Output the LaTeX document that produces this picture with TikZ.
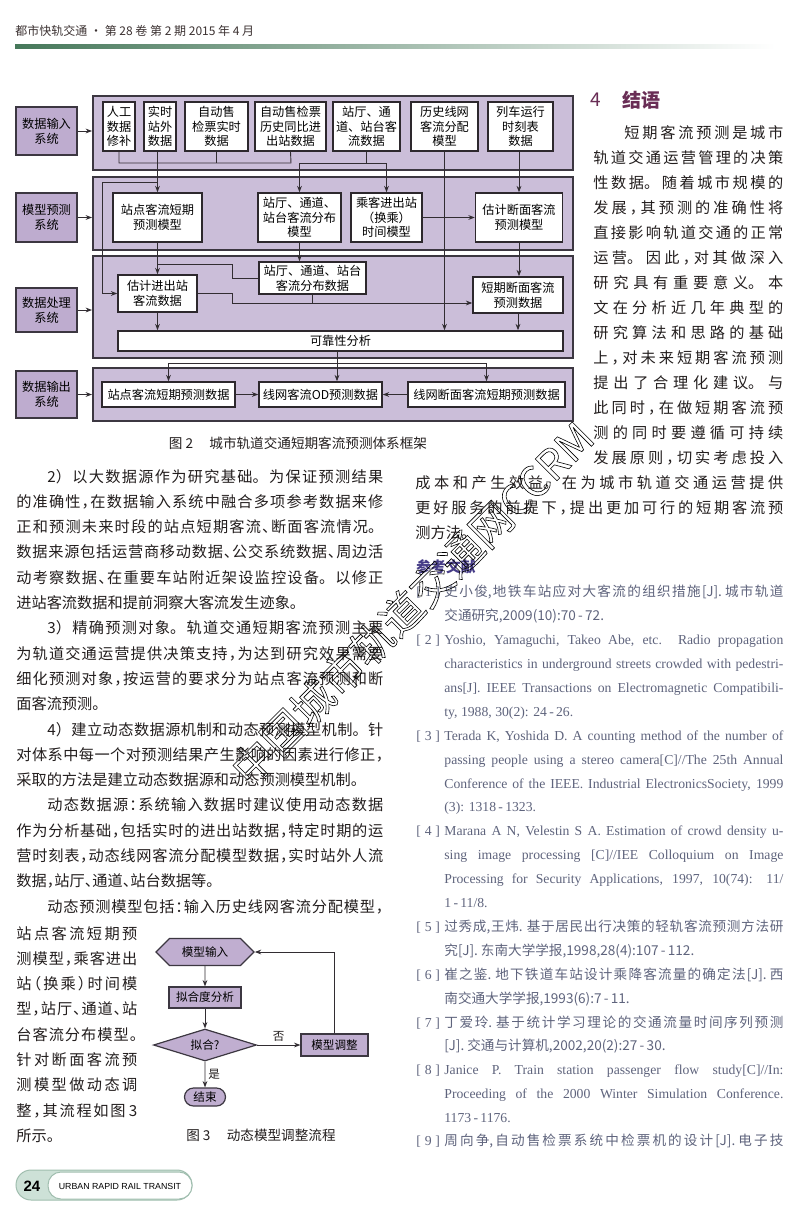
\documentclass[tikz,border=0pt]{standalone}
\usepackage{fontspec}
\setmainfont{Noto Sans CJK SC}
\newfontfamily\lat{Liberation Serif}
\newfontfamily\latsans{Liberation Sans}
\usetikzlibrary{positioning, arrows.meta, shapes.geometric, shapes.symbols, shapes.misc}

\definecolor{panelfill}{RGB}{203,190,217}
\definecolor{sysfill}{RGB}{190,172,207}
\definecolor{flowfill}{RGB}{192,174,208}
\definecolor{panelline}{RGB}{60,55,65}
\definecolor{boxline}{RGB}{45,40,45}
\definecolor{lineclr}{RGB}{50,45,50}
\definecolor{bodyclr}{RGB}{35,30,30}
\definecolor{refclr}{RGB}{95,100,125}
\definecolor{headclr}{RGB}{60,50,50}
\definecolor{titleclr}{RGB}{105,45,85}
\definecolor{refhead}{RGB}{70,60,135}
\definecolor{headgreen}{RGB}{70,120,90}
\definecolor{footfill}{RGB}{205,225,215}
\definecolor{footline}{RGB}{160,190,175}

\XeTeXlinebreaklocale "zh"\relax
\XeTeXlinebreakskip=0pt plus 1fil\relax

% half-width punctuation
\newcommand\zcomma{\hspace{0pt plus 1fil}\makebox[.5em][l]{，}\hspace{0pt plus 1fil}}
\newcommand\zdun{\hspace{0pt plus 1fil}\makebox[.5em][l]{、}\hspace{0pt plus 1fil}}
\newcommand\zstop{\hspace{0pt plus 1fil}\makebox[.5em][l]{。}\hspace{0pt plus 1fil}}
\newcommand\zcolon{\hspace{0pt plus 1fil}\makebox[.5em][l]{：}\hspace{0pt plus 1fil}}
\newcommand\zlp{\hspace{0pt plus 1fil}\makebox[.5em][r]{（}\hspace{0pt plus 1fil}}
\newcommand\zrp{\hspace{0pt plus 1fil}\makebox[.5em][l]{）}\hspace{0pt plus 1fil}}
\newcommand\zhlocale{\XeTeXlinebreaklocale "zh"\relax}
\newcommand\nobreaklocale{\XeTeXlinebreaklocale ""\relax}
\newcommand\hollow[1]{\special{pdf:literal direct 1 Tr 0.3 w}#1\special{pdf:literal direct 0 Tr}}

\begin{document}
\begin{tikzpicture}[x=0.5pt, y=-0.5pt,
    panel/.style={draw=panelline, line width=1pt, fill=panelfill, inner sep=0pt, minimum width=240pt},
    sys/.style={draw=panelline, line width=1pt, fill=sysfill, inner sep=0pt, minimum width=30.5pt, align=center, font=\fontsize{6.1}{7.4}\selectfont},
    box/.style={draw=boxline, line width=0.75pt, fill=white, inner sep=0pt, align=center, font=\fontsize{6.1}{7.4}\selectfont},
    arr/.style={draw=lineclr, line width=0.45pt, -{Stealth[length=3.2pt, width=2.4pt]}},
    ln/.style={draw=lineclr, line width=0.45pt},
    flow/.style={draw=panelline, line width=0.6pt, fill=flowfill, inner sep=0pt, font=\fontsize{5.8}{7}\selectfont},
    txt/.style={anchor=west, inner sep=0pt, text height=.8em, text depth=.2em, text=bodyclr, font=\fontsize{7.6}{9}\selectfont},
    jt/.style={txt, text width=#1, align=justify, execute at begin node={\zhlocale\parfillskip=0pt\relax}},
    ref/.style={txt, text=refclr, font=\fontsize{6.8}{8}\selectfont},
    jref/.style={ref, text width=169.5pt, align=justify, execute at begin node={\zhlocale\parfillskip=0pt\relax}},
    lref/.style={ref, font=\fontsize{6.85}{8}\lat, execute at begin node={\nobreaklocale}},
    jlref/.style={lref, text width=169.5pt, align=justify, execute at begin node={\nobreaklocale\parfillskip=0pt\relax}},
    figcap/.style={inner sep=0pt, text=bodyclr, font=\fontsize{6.8}{8}\selectfont}]

\fill[white] (0,0) rectangle (800,1215);
\useasboundingbox (0,0) rectangle (800,1215);

% header
\node[anchor=west, inner sep=0pt, font=\fontsize{6}{7}\selectfont, text=headclr] (head) at (15,31) {都市快轨交通 · 第 28 卷\ 第 2 期\ 2015 年 4 月};
\shade[left color=headgreen, right color=white] (15,44) rectangle (775,48);

% figure 2
\node[panel, minimum height=37pt] (p1) at (333,133) {};
\node[panel, minimum height=36.5pt] (p2) at (333,213.5) {};
\node[panel, minimum height=51pt] (p3) at (333,307) {};
\node[panel, minimum height=26.5pt] (p4) at (333,394.5) {};

\node[sys, minimum height=24pt] (in) at (46.5,131) {数据输入\\系统};
\node[sys, minimum height=24.5pt] (mod) at (46.5,217.5) {模型预测\\系统};
\node[sys, minimum height=22pt] (proc) at (46.5,310) {数据处理\\系统};
\node[sys, minimum height=23.5pt] (out) at (46.5,394.5) {数据输出\\系统};

\node[box, minimum width=16pt, minimum height=24.5pt] (a1) at (119,126.5) {人工\\数据\\修补};
\node[box, minimum width=16pt, minimum height=24.5pt] (a2) at (160,126.5) {实时\\站外\\数据};
\node[box, minimum width=31.5pt, minimum height=24.5pt] (a3) at (216.5,126.5) {自动售\\检票实时\\数据};
\node[box, minimum width=35.5pt, minimum height=24.5pt] (a4) at (290.5,126.5) {自动售检票\\历史同比进\\出站数据};
\node[box, minimum width=33.5pt, minimum height=24.5pt] (a5) at (366.5,126.5) {站厅、通\\道、站台客\\流数据};
\node[box, minimum width=33.5pt, minimum height=24.5pt] (a6) at (444.5,126.5) {历史线网\\客流分配\\模型};
\node[box, minimum width=32.5pt, minimum height=24.5pt] (a7) at (520.5,126.5) {列车运行\\时刻表\\数据};

\node[box, minimum width=44.5pt, minimum height=24.5pt] (b1) at (157.5,217.5) {站点客流短期\\预测模型};
\node[box, minimum width=41.5pt, minimum height=24.5pt] (b2) at (299.5,217.5) {站厅、通道、\\站台客流分布\\模型};
\node[box, minimum width=35.5pt, minimum height=24.5pt] (b3) at (386.5,217.5) {乘客进出站\\（换乘）\\时间模型};
\node[box, minimum width=43.5pt, minimum height=24.5pt] (b4) at (519,217.5) {估计断面客流\\预测模型};

\node[box, minimum width=39.5pt, minimum height=18.5pt] (c1) at (157.5,293.5) {估计进出站\\客流数据};
\node[box, minimum width=53.5pt, minimum height=16pt] (c2) at (312.5,278) {站厅、通道、站台\\客流分布数据};
\node[box, minimum width=45pt, minimum height=18pt] (c3) at (518,295) {短期断面客流\\预测数据};
\node[box, minimum width=222.5pt, minimum height=10pt] (rel) at (340.5,341) {可靠性分析};

\node[box, minimum width=66.5pt, minimum height=12.5pt] (d1) at (168.5,394.5) {站点客流短期预测数据};
\node[box, minimum width=61.5pt, minimum height=12.5pt] (d2) at (320.5,394.5) {线网客流OD预测数据};
\node[box, minimum width=78.5pt, minimum height=12.5pt] (d3) at (486.5,394.5) {线网断面客流短期预测数据};

\coordinate (bl) at (119,163);
\coordinate (br) at (291,163);
\coordinate (j1) at (102,182);
\coordinate (k1) at (232,264);
\coordinate (k2) at (232,303);
\coordinate (k3) at (337,363);

\draw[arr] (in) -- (in -| p1.west);
\draw[arr] (mod) -- (mod -| p2.west);
\draw[arr] (proc) -- (proc -| p3.west);
\draw[arr] (out) -- (out -| p4.west);

\draw[ln] (a1.south) -- (bl) -- (br) -- (a4.south);
\draw[ln] (a3.south) -- (a3.south |- bl);
\draw[ln] (a5.south) -- (a5.south |- bl);
\draw[arr] (a5.south |- bl) -| (b2.north);
\draw[arr] (a5.south |- bl) -| (b3.north);
\draw[arr] (b1.north |- a2.south) -- (b1.north);
\draw[arr] (b1.north |- j1) -- (j1) |- (c1.west);
\draw[arr] (a7.south -| b4.north) -- (b4.north);
\draw[arr] (b3) -- (b4);
\draw[arr] (b1.south) -- (c1.north);
\draw[arr] (b2.south) -- (b2.south |- c2.north);
\draw[ln] (c2.west) -| (k1) -- (k1 -| c1.north);
\draw[arr] (c1.east) -| (k2) -- (k2 -| c3.west);
\draw[ln] (c2.south) -- (c2.south |- k2);
\draw[arr] (b4.south) -- (b4.south |- c3.north);
\draw[arr] (a6.south) -- (a6.south |- rel.north);
\draw[arr] (c1.south) -- (c1.south |- rel.north);
\draw[arr] (c3.south) -- (c3.south |- rel.north);
\draw[arr] (rel.south -| k3) -- (k3 |- d2.north);
\draw[arr] (k3) -| (d1.north);
\draw[arr] (k3) -| (d3.north);
\draw[arr] (d1) -- (d2);
\draw[arr] (d3) -- (d2);

\node[figcap] (cap2) at (298,443) {图 2\hspace{1.2em}城市轨道交通短期客流预测体系框架};

% left column
\node[jt=168pt] (b1l) at (47,476) {2）以大数据源作为研究基础。为保证预测结果};
\node[jt=183.5pt] (b2l) at (16,501.3) {的准确性\zcomma 在数据输入系统中融合多项参考数据来修};
\node[jt=183.5pt] (b3l) at (16,526.6) {正和预测未来时段的站点短期客流\zdun 断面客流情况。};
\node[jt=183.5pt] (b4l) at (16,551.9) {数据来源包括运营商移动数据\zdun 公交系统数据\zdun 周边活};
\node[jt=183.5pt] (b5l) at (16,577.2) {动考察数据\zdun 在重要车站附近架设监控设备。以修正};
\node[txt] (b6l) at (16,602.5) {进站客流数据和提前洞察大客流发生迹象。};
\node[jt=168pt] (b7l) at (47,627.8) {3）精确预测对象。轨道交通短期客流预测主要};
\node[jt=183.5pt] (b8l) at (16,653.1) {为轨道交通运营提供决策支持\zcomma 为达到研究效果需要};
\node[jt=183.5pt] (b9l) at (16,678.4) {细化预测对象\zcomma 按运营的要求分为站点客流预测和断};
\node[txt] (b10l) at (16,703.7) {面客流预测。};
\node[jt=168pt] (b11l) at (47,729) {4）建立动态数据源机制和动态预测模型机制。针};
\node[jt=183.5pt] (b12l) at (16,754.3) {对体系中每一个对预测结果产生影响的因素进行修正\zcomma};
\node[txt] (b13l) at (16,779.6) {采取的方法是建立动态数据源和动态预测模型机制。};
\node[jt=168pt] (b14l) at (47,804.9) {动态数据源\zcolon 系统输入数据时建议使用动态数据};
\node[jt=183.5pt] (b15l) at (16,830.2) {作为分析基础\zcomma 包括实时的进出站数据\zcomma 特定时期的运};
\node[jt=183.5pt] (b16l) at (16,855.5) {营时刻表\zcomma 动态线网客流分配模型数据\zcomma 实时站外人流};
\node[txt] (b17l) at (16,880.8) {数据\zcomma 站厅\zdun 通道\zdun 站台数据等。};
\node[jt=168pt] (b18l) at (47,906.1) {动态预测模型包括\zcolon 输入历史线网客流分配模型\zcomma};

\node[jt=60.5pt] (n1) at (16,933) {站点客流短期预};
\node[jt=60.5pt] (n2) at (16,958.3) {测模型\zcomma 乘客进出};
\node[jt=60.5pt] (n3) at (16,983.6) {站\zlp 换乘\zrp 时间模};
\node[jt=60.5pt] (n4) at (16,1008.9) {型\zcomma 站厅\zdun 通道\zdun 站};
\node[jt=60.5pt] (n5) at (16,1034.2) {台客流分布模型\zstop};
\node[jt=60.5pt] (n6) at (16,1059.5) {针对断面客流预};
\node[jt=60.5pt] (n7) at (16,1084.8) {测模型做动态调};
\node[jt=60.5pt] (n8) at (16,1110.1) {整\zcomma 其流程如图 3};
\node[txt] (n9) at (16,1135.4) {所示。};

% figure 3
\node[flow, signal, signal to=east and west, minimum width=49pt, minimum height=13.5pt] (f1) at (205,952) {模型输入};
\node[flow, minimum width=36pt, minimum height=10.5pt] (f2) at (205,997.5) {拟合度分析};
\node[flow, diamond, aspect=3.2, minimum width=51.5pt, minimum height=16pt] (f3) at (205,1045) {拟合?};
\node[flow, minimum width=33.5pt, minimum height=11pt] (f4) at (334.5,1045) {模型调整};
\node[flow, rounded rectangle, minimum width=20.5pt, minimum height=9pt] (f5) at (205,1097) {结束};
\draw[arr] (f1) -- (f2);
\draw[arr] (f2) -- (f3);
\draw[arr] (f3) -- node[above, inner sep=1.5pt, text=bodyclr, font=\fontsize{5.8}{7}\selectfont] (no) {否} (f4);
\draw[arr] (f3) -- node[right, inner sep=1.5pt, text=bodyclr, font=\fontsize{5.8}{7}\selectfont] (yes) {是} (f5);
\draw[arr] (f4.north) |- (f1.east);
\node[figcap] (cap3) at (261,1135) {图 3\hspace{1.2em}动态模型调整流程};

% right column
\node[anchor=west, inner sep=0pt, text=titleclr, font=\fontsize{9.5}{11}\selectfont] (sec4n) at (590,100) {4};
\node[anchor=west, inner sep=0pt, text=titleclr, font=\fontsize{9.5}{11}\selectfont\bfseries] (sec4) at (622,100) {结语};
\node[jt=79.5pt] (r1) at (624,132) {短期客流预测是城市};
\node[jt=95pt] (r2) at (593,157) {轨道交通运营管理的决策};
\node[jt=95pt] (r3) at (593,182) {性数据。随着城市规模的};
\node[jt=95pt] (r4) at (593,207) {发展\zcomma 其预测的准确性将};
\node[jt=95pt] (r5) at (593,232) {直接影响轨道交通的正常};
\node[jt=95pt] (r6) at (593,257) {运营。因此\zcomma 对其做深入};
\node[jt=95pt] (r7) at (593,282) {研究具有重要意义。本};
\node[jt=95pt] (r8) at (593,307) {文在分析近几年典型的};
\node[jt=95pt] (r9) at (593,332) {研究算法和思路的基础};
\node[jt=95pt] (r10) at (593,357) {上\zcomma 对未来短期客流预测};
\node[jt=95pt] (r11) at (593,382) {提出了合理化建议。与};
\node[jt=95pt] (r12) at (593,407) {此同时\zcomma 在做短期客流预};
\node[jt=95pt] (r13) at (593,432) {测的同时要遵循可持续};
\node[jt=95pt] (r14) at (593,457) {发展原则\zcomma 切实考虑投入};
\node[jt=184pt] (r15) at (415,482) {成本和产生效益。在为城市轨道交通运营提供};
\node[jt=184pt] (r16) at (415,507.3) {更好服务的前提下\zcomma 提出更加可行的短期客流预};
\node[txt] (r17) at (415,532.6) {测方法。};

\node[anchor=west, inner sep=0pt, text=refhead, font=\fontsize{7.4}{9}\selectfont\bfseries] (refs) at (416,567) {参考文献};

\node[lref] (n1r) at (416,590) {[\;1\;]};
\node[jref] (ref1a) at (444,590) {史小俊,地铁车站应对大客流的组织措施[J]. 城市轨道};
\node[ref] (ref1b) at (444,614.5) {交通研究,2009(10):70\,-\,72.};
\node[lref] (n2r) at (416,638.5) {[\;2\;]};
\node[jlref] (ref2a) at (444,638.5) {Yoshio, Yamaguchi, Takeo Abe, etc. Radio propagation};
\node[jlref] (ref2b) at (444,662.5) {characteristics in underground streets crowded with pedestri-};
\node[jlref] (ref2c) at (444,686.5) {ans[J]. IEEE Transactions on Electromagnetic Compatibili-};
\node[lref] (ref2d) at (444,710.5) {ty, 1988, 30(2): 24\,-\,26.};
\node[lref] (n3r) at (416,734) {[\;3\;]};
\node[jlref] (ref3a) at (444,734) {Terada K, Yoshida D. A counting method of the number of};
\node[jlref] (ref3b) at (444,758) {passing people using a stereo camera[C]//The 25th Annual};
\node[jlref] (ref3c) at (444,782) {Conference of the IEEE. Industrial ElectronicsSociety, 1999};
\node[lref] (ref3d) at (444,805.5) {(3): 1318\,-\,1323.};
\node[lref] (n4r) at (416,829.5) {[\;4\;]};
\node[jlref] (ref4a) at (444,829.5) {Marana A N, Velestin S A. Estimation of crowd density u-};
\node[jlref] (ref4b) at (444,853.5) {sing image processing [C]//IEE Colloquium on Image};
\node[jlref] (ref4c) at (444,877.5) {Processing for Security Applications, 1997, 10(74): 11/};
\node[lref] (ref4d) at (444,901.5) {1\,-\,11/8.};
\node[lref] (n5r) at (416,925.5) {[\;5\;]};
\node[jref] (ref5a) at (444,925.5) {过秀成,王炜. 基于居民出行决策的轻轨客流预测方法研};
\node[ref] (ref5b) at (444,949.5) {究[J]. 东南大学学报,1998,28(4):107\,-\,112.};
\node[lref] (n6r) at (416,973) {[\;6\;]};
\node[jref] (ref6a) at (444,973) {崔之鉴. 地下铁道车站设计乘降客流量的确定法[J]. 西};
\node[ref] (ref6b) at (444,997) {南交通大学学报,1993(6):7\,-\,11.};
\node[lref] (n7r) at (416,1021) {[\;7\;]};
\node[jref] (ref7a) at (444,1021) {丁爱玲. 基于统计学习理论的交通流量时间序列预测};
\node[ref] (ref7b) at (444,1044.5) {[J]. 交通与计算机,2002,20(2):27\,-\,30.};
\node[lref] (n8r) at (416,1068.5) {[\;8\;]};
\node[jlref] (ref8a) at (444,1068.5) {Janice P. Train station passenger flow study[C]//In:};
\node[jlref] (ref8b) at (444,1092.5) {Proceeding of the 2000 Winter Simulation Conference.};
\node[lref] (ref8c) at (444,1116.5) {1173\,-\,1176.};
\node[lref] (n9r) at (416,1139.5) {[\;9\;]};
\node[jref] (ref9a) at (444,1139.5) {周向争,自动售检票系统中检票机的设计[J]. 电子技};

% watermark
\node[rotate=45, inner sep=0pt, text=black, font=\fontsize{21}{21}\selectfont] (wm) at (412,603) {\hollow{中国城市轨道交通网CCRM}};

% footer
\node[draw=footline, fill=footfill, line width=0.5pt, rounded corners=7.5pt, minimum width=88pt, minimum height=15pt, inner sep=0pt] (foot) at (104,1185) {};
\node[draw=footline, fill=white, line width=0.5pt, rounded corners=6.5pt, minimum width=72pt, minimum height=13.5pt, inner sep=0pt] (footin) at (120,1185.5) {};
\node[inner sep=0pt, font=\fontsize{7.5}{8}\latsans\bfseries] (pgno) at (32,1186) {24};
\node[inner sep=0pt, font=\fontsize{4.4}{5}\latsans] (jname) at (120,1186) {URBAN RAPID RAIL TRANSIT};
\end{tikzpicture}
\end{document}
